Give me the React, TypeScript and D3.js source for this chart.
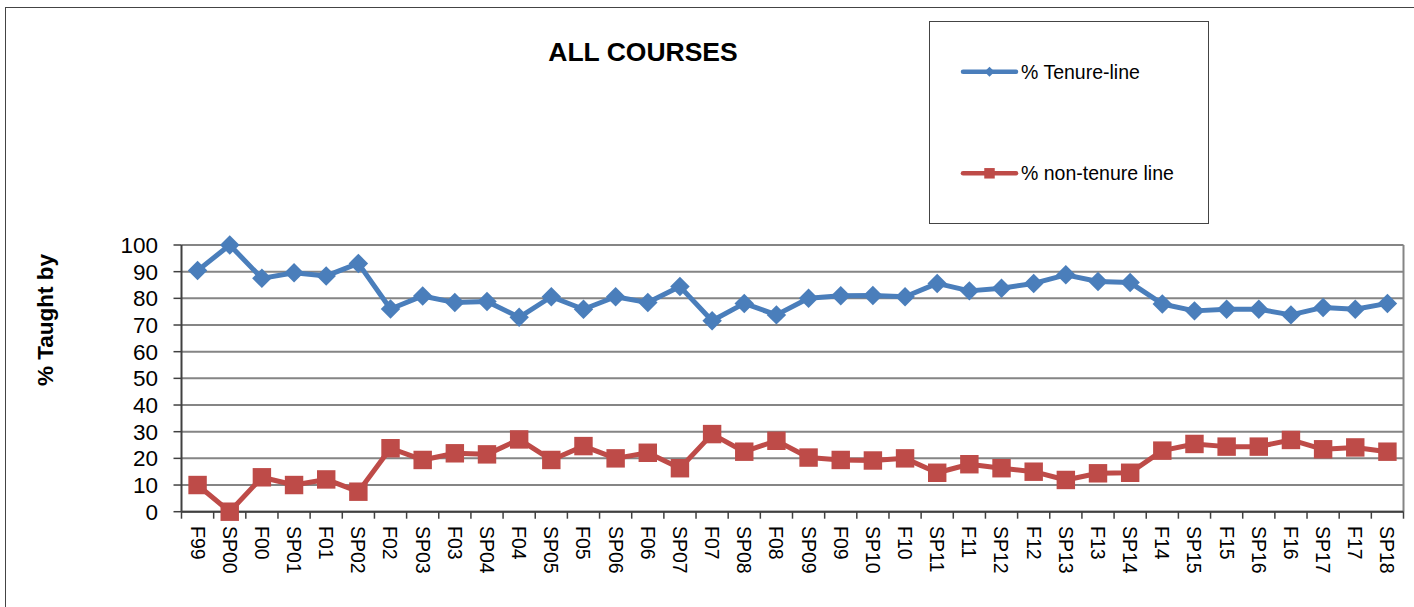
import * as d3 from 'd3';

const terms = [
  'F99', 'SP00', 'F00', 'SP01', 'F01', 'SP02', 'F02', 'SP03', 'F03', 'SP04',
  'F04', 'SP05', 'F05', 'SP06', 'F06', 'SP07', 'F07', 'SP08', 'F08', 'SP09',
  'F09', 'SP10', 'F10', 'SP11', 'F11', 'SP12', 'F12', 'SP13', 'F13', 'SP14',
  'F14', 'SP15', 'F15', 'SP16', 'F16', 'SP17', 'F17', 'SP18',
];

const tenureLine = [
  90.4, 100, 87.5, 89.6, 88.4, 93.1, 76, 80.9, 78.4, 78.8,
  72.9, 80.6, 75.9, 80.6, 78.4, 84.4, 71.6, 78.1, 73.8, 80,
  81, 81.1, 80.6, 85.6, 82.8, 83.8, 85.6, 88.8, 86.3, 85.9,
  77.9, 75.3, 75.9, 75.9, 73.8, 76.6, 75.9, 78.1,
];

const nonTenureLine = [
  10, 0, 12.9, 10, 12.1, 7.5, 23.8, 19.4, 21.9, 21.5,
  27.1, 19.4, 24.6, 20, 22.1, 16.3, 29.1, 22.5, 26.6, 20.3,
  19.4, 19.2, 20, 14.6, 17.8, 16.3, 15, 11.9, 14.4, 14.6,
  22.9, 25.4, 24.4, 24.4, 26.9, 23.4, 24.1, 22.5,
];

const yTicks = [0, 10, 20, 30, 40, 50, 60, 70, 80, 90, 100];

const series = [
  { name: '% Tenure-line', values: tenureLine, color: '#4A7EBB', marker: 'diamond' },
  { name: '% non-tenure line', values: nonTenureLine, color: '#BE4B48', marker: 'square' },
];

const W = 1414;
const H = 607;
const font = '"Liberation Sans", Arial, sans-serif';

// diamond = square turned 45deg, as in the spreadsheet marker
function marker(kind: string, size: number) {
  if (kind === 'diamond') return { d: d3.symbol(d3.symbolSquare, size)() ?? '', rot: 45 };
  return { d: d3.symbol(d3.symbolSquare, size)() ?? '', rot: 0 };
}

export default function App() {
  const left = 181.5;
  const right = 1403.5;
  const top = 245;
  const bottom = 511.7;

  const x = d3.scaleBand<string>().domain(terms).range([left, right]);
  const y = d3.scaleLinear().domain([0, 100]).range([bottom, top]);
  const cx = (t: string) => (x(t) ?? 0) + x.bandwidth() / 2;

  const line = d3
    .line<number>()
    .x((_, i) => cx(terms[i]))
    .y((d) => y(d));

  return (
    <div style={{ position: 'absolute', left: 0, top: 0 }}>
      <svg width={W} height={H} style={{ display: 'block', fontFamily: font }}>
        <rect x={0} y={0} width={W} height={H} fill="#fff" />
        <rect x={5.5} y={7.5} width={W + 10} height={H + 10} fill="none" stroke="#444" strokeWidth={1} />

        <text x={643} y={61} textAnchor="middle" fontSize={26.5} fontWeight="bold" fill="#000">
          ALL COURSES
        </text>

        {/* gridlines */}
        {yTicks.map((t) => (
          <line key={t} x1={left} x2={right} y1={y(t)} y2={y(t)} stroke="#858585" strokeWidth={2} />
        ))}
        <line x1={right} x2={right} y1={top} y2={bottom} stroke="#858585" strokeWidth={2} />

        {/* y axis */}
        <line x1={left} x2={left} y1={top} y2={bottom} stroke="#404040" strokeWidth={2} />
        {yTicks.map((t) => (
          <g key={t}>
            <line x1={left - 8} x2={left} y1={y(t)} y2={y(t)} stroke="#404040" strokeWidth={1.5} />
            <text x={158} y={y(t)} dy="0.36em" textAnchor="end" fontSize={22.5} fill="#000">
              {t}
            </text>
          </g>
        ))}
        <text
          transform={`translate(53, 320) rotate(-90)`}
          textAnchor="middle"
          fontSize={22.5}
          fontWeight="bold"
          fill="#000"
        >
          % Taught by
        </text>

        {/* x axis */}
        <line x1={left} x2={right} y1={bottom} y2={bottom} stroke="#404040" strokeWidth={2} />
        {terms.map((t) => (
          <line key={t} x1={x(t)} x2={x(t)} y1={bottom} y2={bottom + 7} stroke="#404040" strokeWidth={1.5} />
        ))}
        <line x1={right} x2={right} y1={bottom} y2={bottom + 7} stroke="#404040" strokeWidth={1.5} />
        {terms.map((t) => (
          <text
            key={t}
            transform={`translate(${cx(t)}, 526) rotate(90)`}
            dy="0.36em"
            fontSize={19.5}
            fill="#000"
          >
            {t}
          </text>
        ))}

        {/* series */}
        {series.map((s) => {
          const m = marker(s.marker, s.marker === 'diamond' ? 190 : 340);
          return (
            <g key={s.name}>
              <path d={line(s.values) ?? ''} fill="none" stroke={s.color} strokeWidth={5} strokeLinejoin="round" />
              {s.values.map((v, i) => (
                <path
                  key={i}
                  d={m.d}
                  transform={`translate(${cx(terms[i])}, ${y(v)}) rotate(${m.rot})`}
                  fill={s.color}
                />
              ))}
            </g>
          );
        })}

        {/* legend */}
        <rect x={929.5} y={21.5} width={279} height={202} fill="#fff" stroke="#444" strokeWidth={1} />
        {series.map((s, i) => {
          const ly = 71.7 + i * 101.6;
          const m = marker(s.marker, s.marker === 'diamond' ? 50 : 110);
          return (
            <g key={s.name}>
              <line x1={963} x2={1016} y1={ly} y2={ly} stroke={s.color} strokeWidth={4.5} strokeLinecap="round" />
              <path d={m.d} transform={`translate(989.5, ${ly}) rotate(${m.rot})`} fill={s.color} />
              <text x={1021} y={ly} dy="0.36em" fontSize={19.5} fill="#000">
                {s.name}
              </text>
            </g>
          );
        })}
      </svg>
    </div>
  );
}
